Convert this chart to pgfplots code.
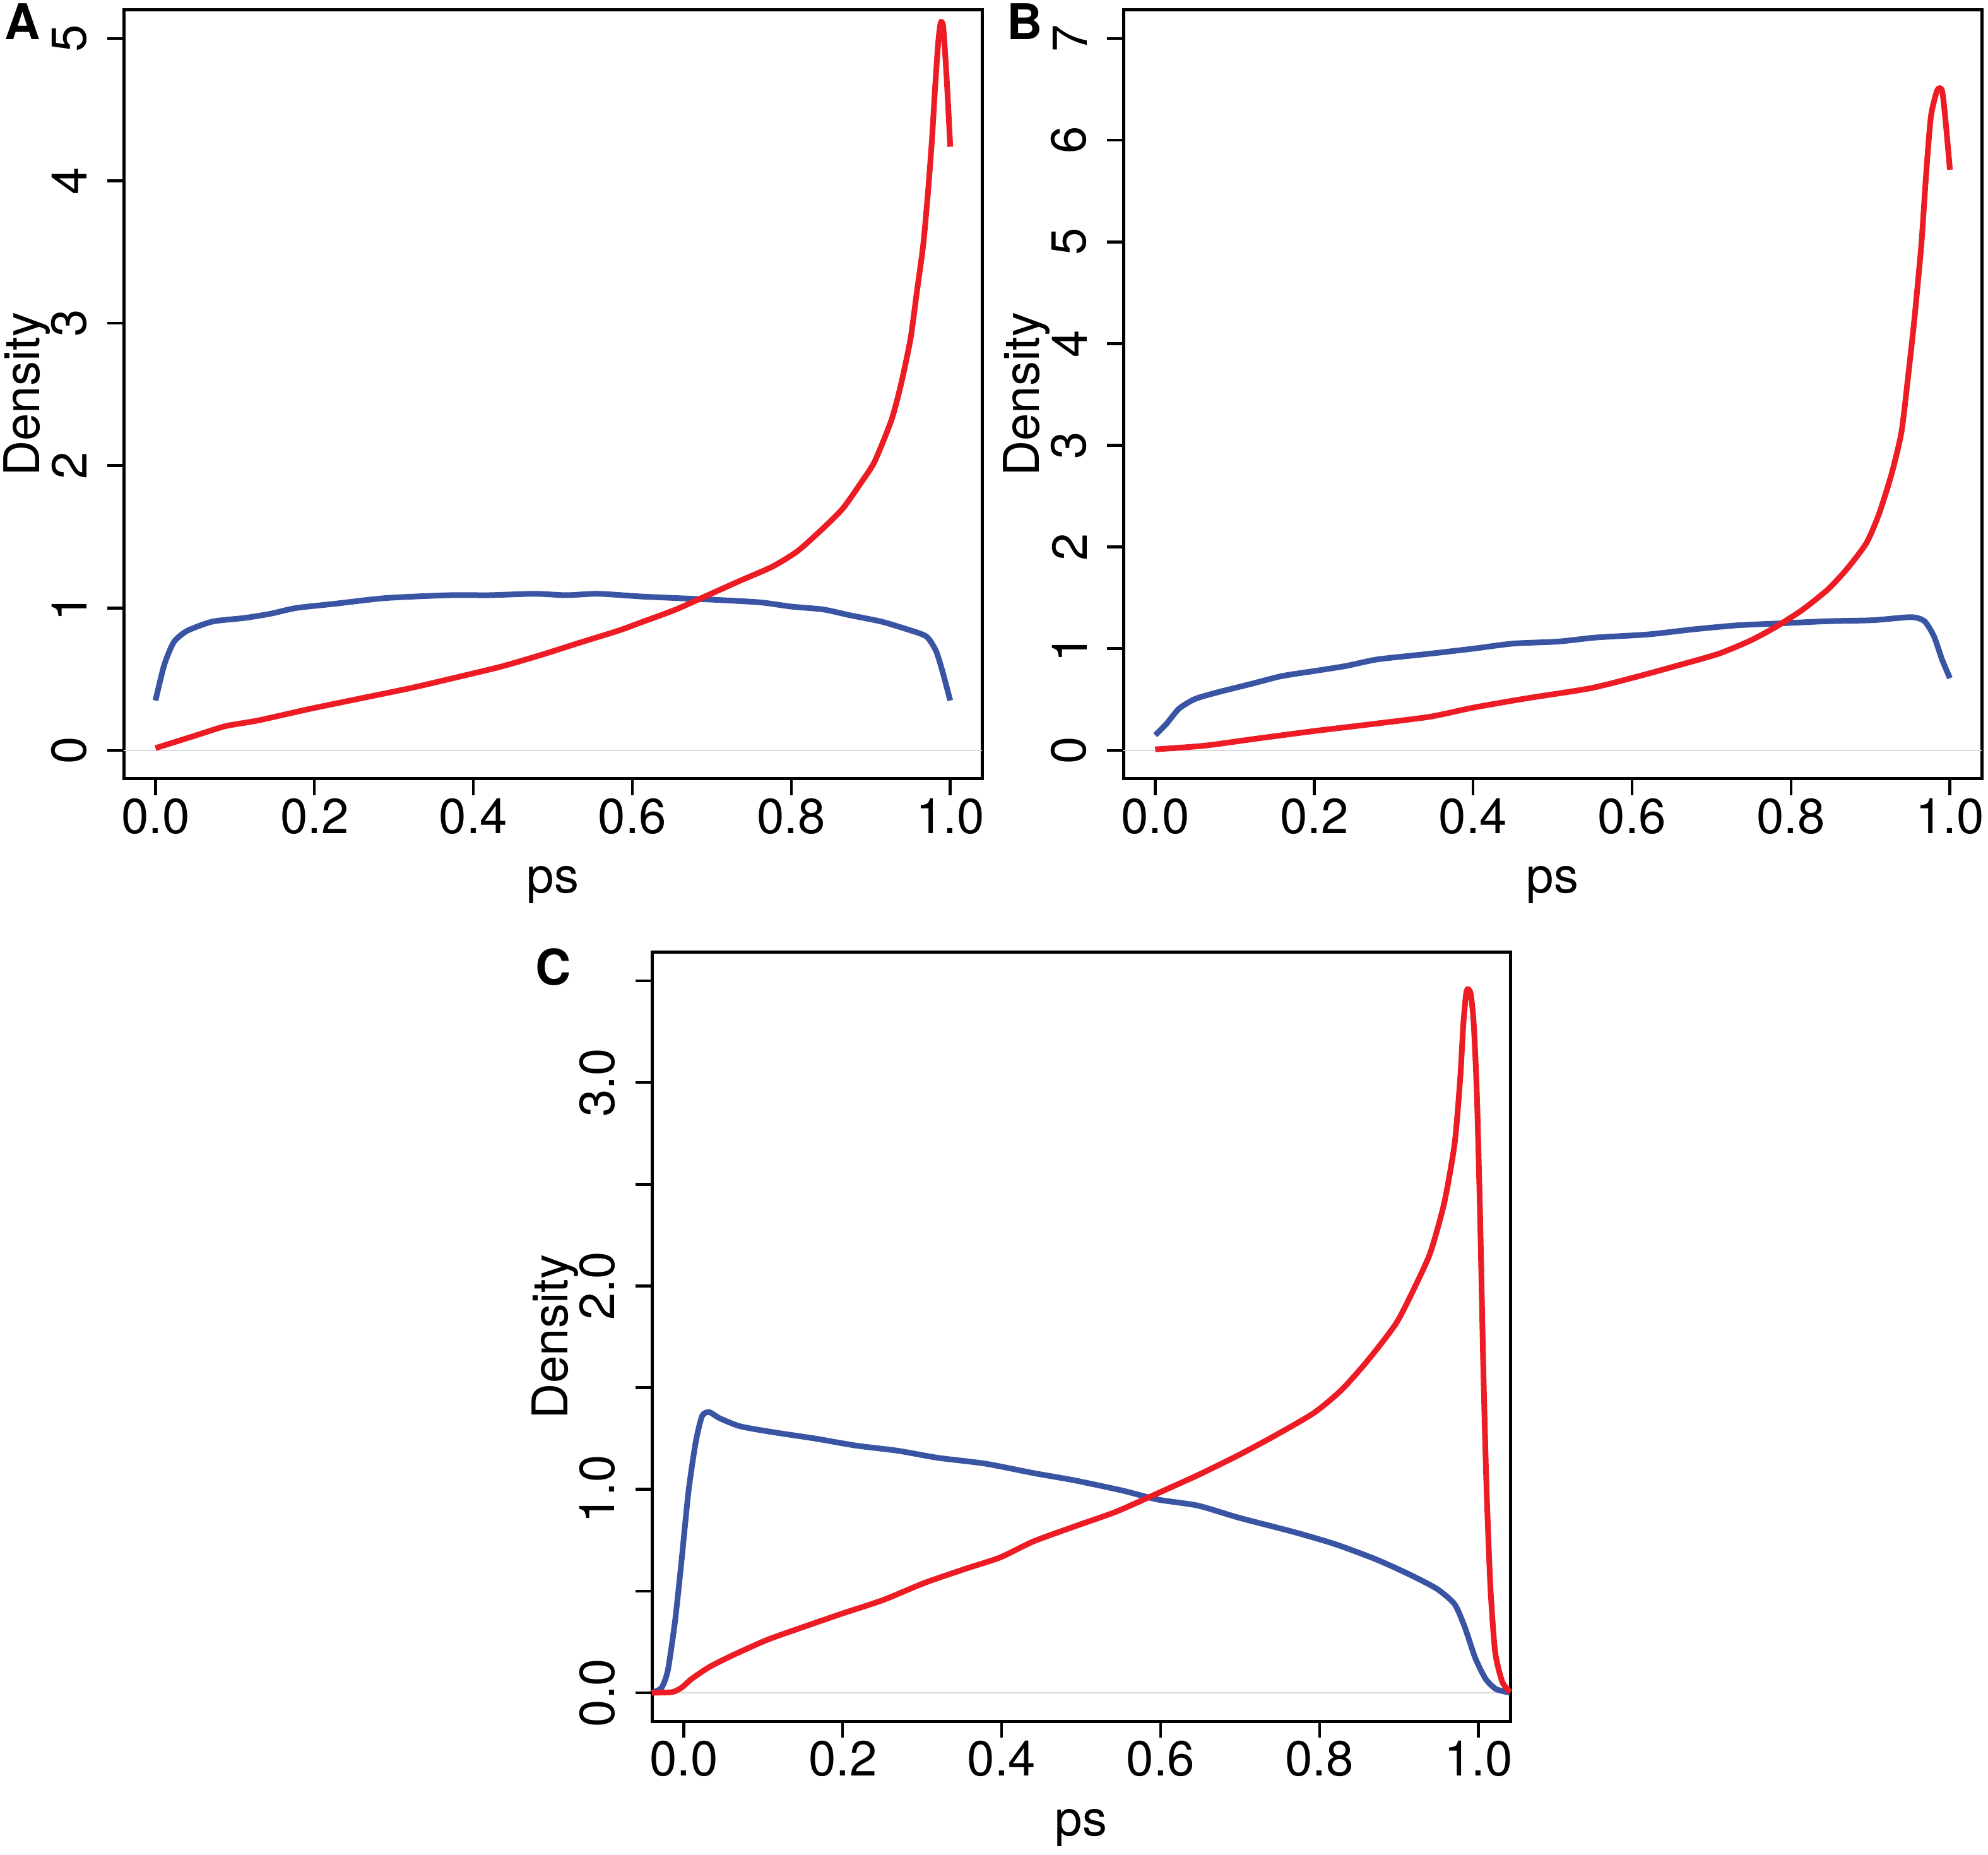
\documentclass[border=0pt]{standalone}
\usepackage{pgfplots}
\pgfplotsset{compat=1.18}
\usepackage{fontspec}
\setmainfont{TeX Gyre Heros}

\definecolor{dred}{RGB}{237,28,36}
\definecolor{dblue}{RGB}{58,84,164}

\pgfplotsset{
  dens/.style={
    scale only axis,
    width=136pt, height=121.8pt,
    xmin=-0.04, xmax=1.04,
    clip=false,
    font=\fontsize{7.8}{9}\selectfont,
    axis line style={line width=0.5pt},
    tick style={line width=0.45pt, black},
    tick align=outside,
    major tick length=2.6pt,
    xtick pos=left, ytick pos=left,
    xtick={0,0.2,0.4,0.6,0.8,1},
    xticklabels={0.0,0.2,0.4,0.6,0.8,1.0},
    xticklabel style={anchor=north, inner sep=0pt},
    yticklabel style={rotate=90, anchor=south, inner sep=0pt},
    xticklabel shift=0.3pt,
    yticklabel shift=3.0pt,
    xlabel={ps}, ylabel={Density},
    xlabel style={at={(axis description cs:0.5,-0.1486)}, anchor=base, inner sep=0pt},
    ylabel style={at={(axis description cs:-0.0985,0.5)}, anchor=base, inner sep=0pt},
    every axis plot/.append style={line width=0.9pt, smooth, tension=0.4},
  },
  zeroline/.style={gray!30, line width=0.15pt, forget plot},
}
\tikzset{panel/.style={anchor=base west, inner sep=0pt, font=\fontsize{7.8}{9}\selectfont\bfseries}}

\begin{document}
\begin{tikzpicture}
\path[use as bounding box] (0,0) rectangle (315pt,293.8pt);

% panel A
\begin{axis}[dens, at={(19.6pt,170.4pt)}, anchor=south west,
  ymin=-0.2, ymax=5.2, ytick={0,1,2,3,4,5}, yticklabels={0,1,2,3,4,5}]
\addplot[zeroline] coordinates {(-0.04,0) (1.04,0)};
\addplot[dblue] coordinates {
(0,0.35) (0.011,0.6) (0.023,0.76) (0.04,0.84) (0.072,0.905) (0.112,0.93)
(0.145,0.96) (0.177,1.0) (0.226,1.03) (0.29,1.07) (0.37,1.09) (0.42,1.09)
(0.477,1.10) (0.517,1.09) (0.557,1.10) (0.614,1.08) (0.695,1.06) (0.76,1.04)
(0.80,1.01) (0.84,0.99) (0.873,0.95) (0.913,0.905) (0.946,0.85) (0.97,0.80)
(0.982,0.70) (0.99,0.56) (1.0,0.35)
};
\addplot[dred] coordinates {
(0,0.016) (0.048,0.10) (0.088,0.17) (0.129,0.21) (0.193,0.29) (0.258,0.365)
(0.323,0.44) (0.388,0.525) (0.436,0.59) (0.485,0.67) (0.533,0.755) (0.582,0.84)
(0.614,0.905) (0.655,0.99) (0.695,1.09) (0.735,1.19) (0.776,1.29) (0.808,1.40)
(0.84,1.56) (0.865,1.70) (0.889,1.89) (0.905,2.03) (0.926,2.32) (0.938,2.57)
(0.95,2.89) (0.958,3.22) (0.966,3.55) (0.972,3.92) (0.977,4.29) (0.981,4.66)
(0.985,4.98) (0.988,5.11) (0.991,5.09) (0.994,4.86) (0.997,4.57) (1.0,4.24)
};
\node[panel] at (rel axis cs:-0.1404,0.9614) {A};
\end{axis}

% panel B
\begin{axis}[dens, at={(178.0pt,170.4pt)}, anchor=south west,
  ymin=-0.28, ymax=7.28, ytick={0,1,2,3,4,5,6,7}, yticklabels={0,1,2,3,4,5,6,7}]
\addplot[zeroline] coordinates {(-0.04,0) (1.04,0)};
\addplot[dblue] coordinates {
(0,0.15) (0.014,0.26) (0.03,0.41) (0.05,0.505) (0.078,0.57) (0.119,0.65)
(0.159,0.73) (0.2,0.78) (0.24,0.83) (0.28,0.895) (0.345,0.95) (0.40,1.0)
(0.45,1.05) (0.507,1.07) (0.555,1.11) (0.62,1.14) (0.677,1.19) (0.733,1.23)
(0.79,1.25) (0.846,1.27) (0.903,1.28) (0.951,1.31) (0.968,1.27) (0.98,1.12)
(0.99,0.895) (1.0,0.71)
};
\addplot[dred] coordinates {
(0,0.01) (0.062,0.046) (0.127,0.115) (0.2,0.19) (0.264,0.25) (0.345,0.33)
(0.40,0.42) (0.466,0.51) (0.547,0.61) (0.604,0.72) (0.66,0.84) (0.709,0.95)
(0.749,1.08) (0.78,1.21) (0.814,1.38) (0.846,1.58) (0.87,1.78) (0.895,2.04)
(0.911,2.33) (0.927,2.73) (0.939,3.13) (0.947,3.65) (0.955,4.22) (0.964,4.97)
(0.97,5.66) (0.976,6.23) (0.984,6.49) (0.99,6.49) (0.994,6.23) (1.0,5.71)
};
\node[panel] at (rel axis cs:-0.1375,0.9614) {B};
\end{axis}

% panel C
\begin{axis}[dens, at={(103.3pt,21.1pt)}, anchor=south west,
  ymin=-0.14, ymax=3.64, ytick={0,0.5,1,1.5,2,2.5,3,3.5},
  yticklabels={0.0,,1.0,,2.0,,3.0,}]
\addplot[zeroline] coordinates {(-0.04,0) (1.04,0)};
\addplot[dblue] coordinates {
(-0.04,0) (-0.028,0.024) (-0.02,0.11) (-0.011,0.35) (-0.003,0.64) (0.006,0.99)
(0.015,1.23) (0.023,1.36) (0.032,1.38) (0.045,1.35) (0.071,1.31) (0.114,1.28)
(0.165,1.25) (0.217,1.215) (0.269,1.19) (0.32,1.155) (0.38,1.126) (0.44,1.08)
(0.492,1.044) (0.552,0.994) (0.596,0.95) (0.647,0.92) (0.699,0.86) (0.768,0.79)
(0.82,0.73) (0.871,0.656) (0.914,0.58) (0.948,0.51) (0.97,0.435) (0.983,0.32)
(0.996,0.17) (1.009,0.068) (1.022,0.018) (1.04,0)
};
\addplot[dred] coordinates {
(-0.04,0) (-0.015,0.003) (-0.003,0.024) (0.01,0.068) (0.032,0.126) (0.062,0.185)
(0.105,0.26) (0.148,0.32) (0.2,0.39) (0.251,0.456) (0.303,0.54) (0.355,0.61)
(0.398,0.665) (0.44,0.744) (0.492,0.818) (0.544,0.89) (0.596,0.98) (0.647,1.07)
(0.699,1.17) (0.742,1.26) (0.793,1.376) (0.828,1.49) (0.862,1.64) (0.897,1.82)
(0.923,2.02) (0.94,2.17) (0.957,2.41) (0.97,2.70) (0.977,3.02) (0.981,3.29)
(0.985,3.45) (0.99,3.44) (0.994,3.29) (0.998,2.94) (1.002,2.35) (1.006,1.61)
(1.01,1.02) (1.015,0.52) (1.021,0.2) (1.03,0.053) (1.04,0.003)
};
\node[panel] at (rel axis cs:-0.1372,0.9576) {C};
\end{axis}
\end{tikzpicture}
\end{document}
